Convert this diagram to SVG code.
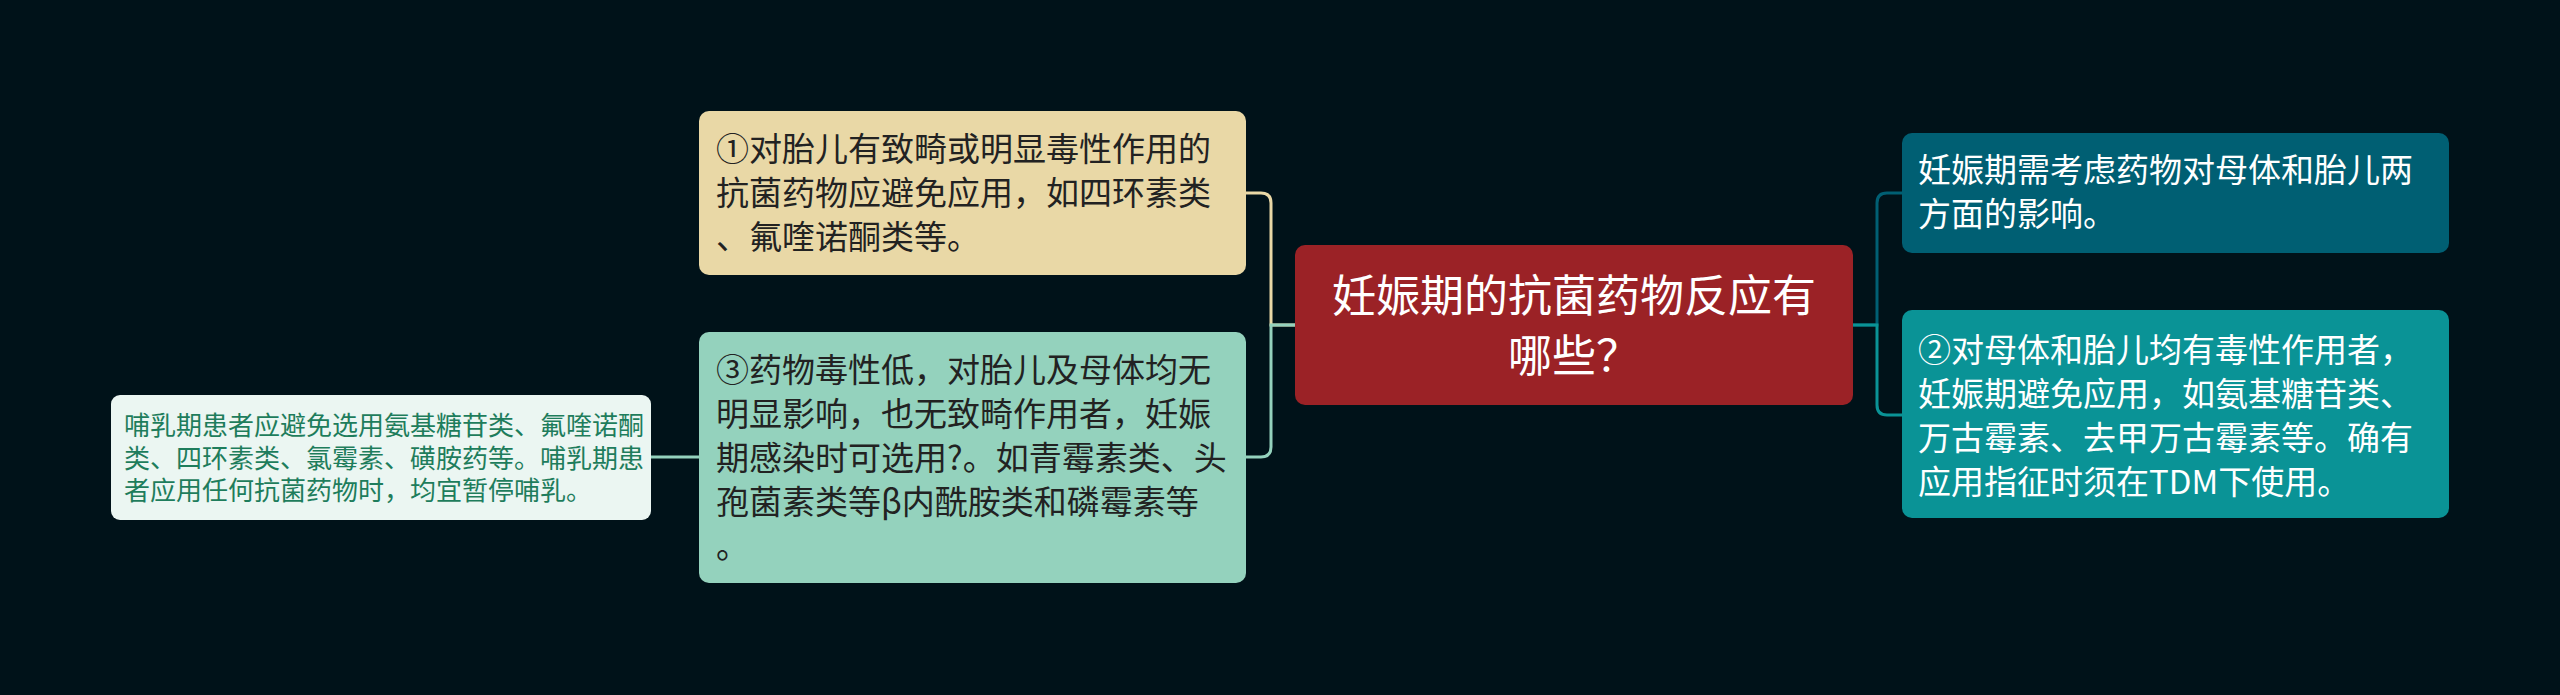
<svg xmlns="http://www.w3.org/2000/svg" width="2560" height="695" viewBox="0 0 2560 695">
<style>
.t{font-family:"Noto Sans CJK SC","Noto Sans",sans-serif;}
.m{font-size:33px;}
.dk{fill:#222222;}
.wh{fill:#ffffff;}
.lf{font-size:26px;fill:#1e7d5c;}
.c{font-size:44px;fill:#ffffff;}
.ln{fill:none;stroke-width:3;}
</style>
<rect width="2560" height="695" fill="#001219"/>
<g id="connectors">
<path class="ln" stroke="#e9d8a6" d="M1295,325 H1271 V203 Q1271,193 1261,193 H1246"/>
<path class="ln" stroke="#94d2bd" d="M1295,325 H1271 V447 Q1271,457 1261,457 H1246"/>
<path class="ln" stroke="#94d2bd" d="M699,457 H651"/>
<path class="ln" stroke="#005f73" d="M1853,325 H1877 V203 Q1877,193 1887,193 H1902"/>
<path class="ln" stroke="#0a9396" d="M1853,325 H1877 V405 Q1877,415 1887,415 H1902"/>
</g>
<g id="center">
<rect x="1295" y="245" width="558" height="160" rx="10" fill="#9b2226"/>
<text class="t c" text-anchor="middle"><tspan x="1574" y="312">妊娠期的抗菌药物反应有</tspan><tspan x="1574" y="372">哪些？</tspan></text>
</g>
<g id="node1">
<rect x="699" y="111" width="547" height="164" rx="10" fill="#e9d8a6"/>
<text class="t m dk"><tspan x="716" y="161">①对胎儿有致畸或明显毒性作用的</tspan><tspan x="716" y="205">抗菌药物应避免应用，如四环素类</tspan><tspan x="716" y="249">、氟喹诺酮类等。</tspan></text>
</g>
<g id="node3">
<rect x="699" y="332" width="547" height="251" rx="10" fill="#94d2bd"/>
<text class="t m dk"><tspan x="716" y="382">③药物毒性低，对胎儿及母体均无</tspan><tspan x="716" y="426">明显影响，也无致畸作用者，妊娠</tspan><tspan x="716" y="470">期感染时可选用?。如青霉素类、头</tspan><tspan x="716" y="514">孢菌素类等β内酰胺类和磷霉素等</tspan><tspan x="716" y="558">。</tspan></text>
</g>
<g id="leaf">
<rect x="111" y="395" width="540" height="125" rx="9" fill="#ebf6f2"/>
<text class="t lf"><tspan x="124" y="435">哺乳期患者应避免选用氨基糖苷类、氟喹诺酮</tspan><tspan x="124" y="467.5">类、四环素类、氯霉素、磺胺药等。哺乳期患</tspan><tspan x="124" y="500">者应用任何抗菌药物时，均宜暂停哺乳。</tspan></text>
</g>
<g id="right1">
<rect x="1902" y="133" width="547" height="120" rx="10" fill="#005f73"/>
<text class="t m wh"><tspan x="1918" y="182">妊娠期需考虑药物对母体和胎儿两</tspan><tspan x="1918" y="226">方面的影响。</tspan></text>
</g>
<g id="right2">
<rect x="1902" y="310" width="547" height="208" rx="10" fill="#0a9396"/>
<text class="t m wh"><tspan x="1918" y="362">②对母体和胎儿均有毒性作用者，</tspan><tspan x="1918" y="406">妊娠期避免应用，如氨基糖苷类、</tspan><tspan x="1918" y="450">万古霉素、去甲万古霉素等。确有</tspan><tspan x="1918" y="494">应用指征时须在TDM下使用。</tspan></text>
</g>
</svg>
